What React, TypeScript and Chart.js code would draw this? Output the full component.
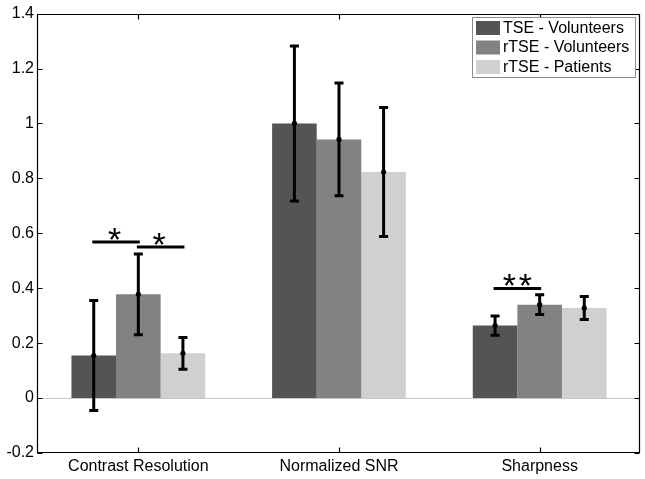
import React, { useEffect, useRef } from 'react';
import { Chart, registerables } from 'chart.js';

Chart.register(...registerables);

// ---- data ----
const categories = ['Contrast Resolution', 'Normalized SNR', 'Sharpness'];
const seriesNames = ['TSE - Volunteers', 'rTSE - Volunteers', 'rTSE - Patients'];
const seriesColors = ['#545454', '#828282', '#d0d0d0'];

const tseVolunteers = [0.155, 1.0, 0.264];
const rtseVolunteers = [0.378, 0.942, 0.34];
const rtsePatients = [0.163, 0.823, 0.328];

const tseVolunteersErr = [0.2, 0.282, 0.035];
const rtseVolunteersErr = [0.147, 0.205, 0.036];
const rtsePatientsErr = [0.058, 0.235, 0.042];

const yTicks = [-0.2, 0, 0.2, 0.4, 0.6, 0.8, 1, 1.2, 1.4];

// significance brackets: category index, series from, series to, level, label
const sigCategory = [0, 0, 2];
const sigFrom = [0, 1, 0];
const sigTo = [1, 2, 1];
const sigLevel = [0.568, 0.55, 0.399];
const sigLabel = ['*', '*', '**'];

const FONT = '"Liberation Sans", Arial, Helvetica, sans-serif';

const decorPlugin = {
  id: 'decor',
  beforeDatasetsDraw(chart: any) {
    const { ctx, chartArea, scales } = chart;
    const y0 = Math.round(scales.y.getPixelForValue(0)) + 0.5;
    ctx.save();
    ctx.strokeStyle = '#c8c8c8';
    ctx.lineWidth = 1;
    ctx.beginPath();
    ctx.moveTo(chartArea.left, y0);
    ctx.lineTo(chartArea.right, y0);
    ctx.stroke();
    ctx.restore();
  },
  afterDatasetsDraw(chart: any) {
    const { ctx, chartArea, scales } = chart;
    const ys = scales.y;
    const xs = scales.x;
    const errs = [tseVolunteersErr, rtseVolunteersErr, rtsePatientsErr];
    ctx.save();
    // error bars
    chart.data.datasets.forEach((ds: any, di: number) => {
      const meta = chart.getDatasetMeta(di);
      meta.data.forEach((bar: any, i: number) => {
        const v = ds.data[i];
        const e = errs[di][i];
        const x = bar.x;
        const yt = ys.getPixelForValue(v + e);
        const yb = ys.getPixelForValue(v - e);
        const ym = ys.getPixelForValue(v);
        ctx.strokeStyle = '#000';
        ctx.lineWidth = 3;
        ctx.lineCap = 'butt';
        ctx.beginPath();
        ctx.moveTo(x, yt);
        ctx.lineTo(x, yb);
        ctx.moveTo(x - 4.5, yt);
        ctx.lineTo(x + 4.5, yt);
        ctx.moveTo(x - 4.5, yb);
        ctx.lineTo(x + 4.5, yb);
        ctx.stroke();
        ctx.fillStyle = '#000';
        ctx.beginPath();
        ctx.arc(x, ym, 2.6, 0, Math.PI * 2);
        ctx.fill();
      });
    });

    // significance brackets
    for (let k = 0; k < sigCategory.length; k++) {
      const c = sigCategory[k];
      const xa = chart.getDatasetMeta(sigFrom[k]).data[c].x;
      const xb = chart.getDatasetMeta(sigTo[k]).data[c].x;
      const yy = ys.getPixelForValue(sigLevel[k]);
      ctx.strokeStyle = '#000';
      ctx.lineWidth = 3;
      ctx.lineCap = 'square';
      ctx.beginPath();
      ctx.moveTo(xa, yy);
      ctx.lineTo(xb, yy);
      ctx.stroke();
      ctx.fillStyle = '#000';
      ctx.font = `34px ${FONT}`;
      (ctx as any).letterSpacing = '3px';
      ctx.textAlign = 'center';
      ctx.textBaseline = 'alphabetic';
      const lbl = sigLabel[k];
      const extra = lbl.length > 1 ? 1.5 : 0;
      ctx.fillText(lbl, (xa + xb) / 2 + extra, yy + 9);
      (ctx as any).letterSpacing = '0px';
    }

    // axes box & inward ticks
    const L = Math.round(chartArea.left) - 0.5;
    const R = Math.round(chartArea.right) - 0.5;
    const T = Math.round(chartArea.top) + 0.5;
    const B = Math.round(chartArea.bottom) - 0.5;
    ctx.strokeStyle = '#000';
    ctx.lineWidth = 1.2;
    ctx.lineCap = 'butt';
    ctx.beginPath();
    ctx.rect(L, T, R - L, B - T);
    const tl = 5;
    yTicks.forEach((t) => {
      const py = Math.round(ys.getPixelForValue(t)) + 0.5;
      ctx.moveTo(L, py);
      ctx.lineTo(L + tl, py);
      ctx.moveTo(R, py);
      ctx.lineTo(R - tl, py);
    });
    categories.forEach((_c, i) => {
      const px = Math.round(xs.getPixelForValue(i)) + 0.5;
      ctx.moveTo(px, B);
      ctx.lineTo(px, B - tl);
      ctx.moveTo(px, T);
      ctx.lineTo(px, T + tl);
    });
    ctx.stroke();

    // legend
    const lx = 472.5, ly = 17.5, lw = 163, lh = 60;
    ctx.fillStyle = '#fff';
    ctx.fillRect(lx, ly, lw, lh);
    ctx.strokeStyle = '#8c8c8c';
    ctx.lineWidth = 1;
    ctx.strokeRect(lx, ly, lw, lh);
    ctx.font = `16px ${FONT}`;
    ctx.textAlign = 'left';
    ctx.textBaseline = 'middle';
    chart.data.datasets.forEach((ds: any, i: number) => {
      const ry = 21 + i * 19.5;
      ctx.fillStyle = ds.backgroundColor;
      ctx.fillRect(476, ry, 24, 14);
      ctx.fillStyle = '#000';
      ctx.fillText(ds.label, 503, ry + 7.5);
    });
    ctx.restore();
  },
};

export default function App() {
  const ref = useRef<HTMLCanvasElement | null>(null);
  useEffect(() => {
    if (!ref.current) return;
    const values = [tseVolunteers, rtseVolunteers, rtsePatients];
    const chart = new Chart(ref.current, {
      type: 'bar',
      data: {
        labels: categories,
        datasets: seriesNames.map((name, i) => ({
          label: name,
          data: values[i],
          backgroundColor: seriesColors[i],
          borderWidth: 0,
          categoryPercentage: 0.6667,
          barPercentage: 1,
        })),
      },
      options: {
        animation: false,
        responsive: false,
        devicePixelRatio: 1,
        layout: { padding: { top: 13, right: 5, left: 0, bottom: 0 } },
        plugins: {
          legend: { display: false },
          tooltip: { enabled: false },
        },
        scales: {
          x: {
            type: 'category',
            offset: true,
            grid: { display: false, drawTicks: false },
            border: { display: false },
            ticks: {
              color: '#000',
              font: { family: FONT, size: 16 },
              padding: 4,
              maxRotation: 0,
              autoSkip: false,
            },
            afterFit: (s: any) => {
              s.height = 26;
            },
          },
          y: {
            type: 'linear',
            min: -0.2,
            max: 1.4,
            grid: { display: false, drawTicks: false },
            border: { display: false },
            afterBuildTicks: (s: any) => {
              s.ticks = yTicks.map((v) => ({ value: v }));
            },
            ticks: {
              color: '#000',
              font: { family: FONT, size: 16 },
              padding: 4,
              callback: (v: any) => String(Math.round(Number(v) * 10) / 10),
            },
            afterFit: (s: any) => {
              s.width = 38;
            },
          },
        },
      },
      plugins: [decorPlugin],
    });
    return () => chart.destroy();
  }, []);
  return (
    <div style={{ position: 'fixed', left: 0, top: 0, width: 645, height: 479, background: '#fff' }}>
      <canvas ref={ref} width={645} height={479} />
    </div>
  );
}
